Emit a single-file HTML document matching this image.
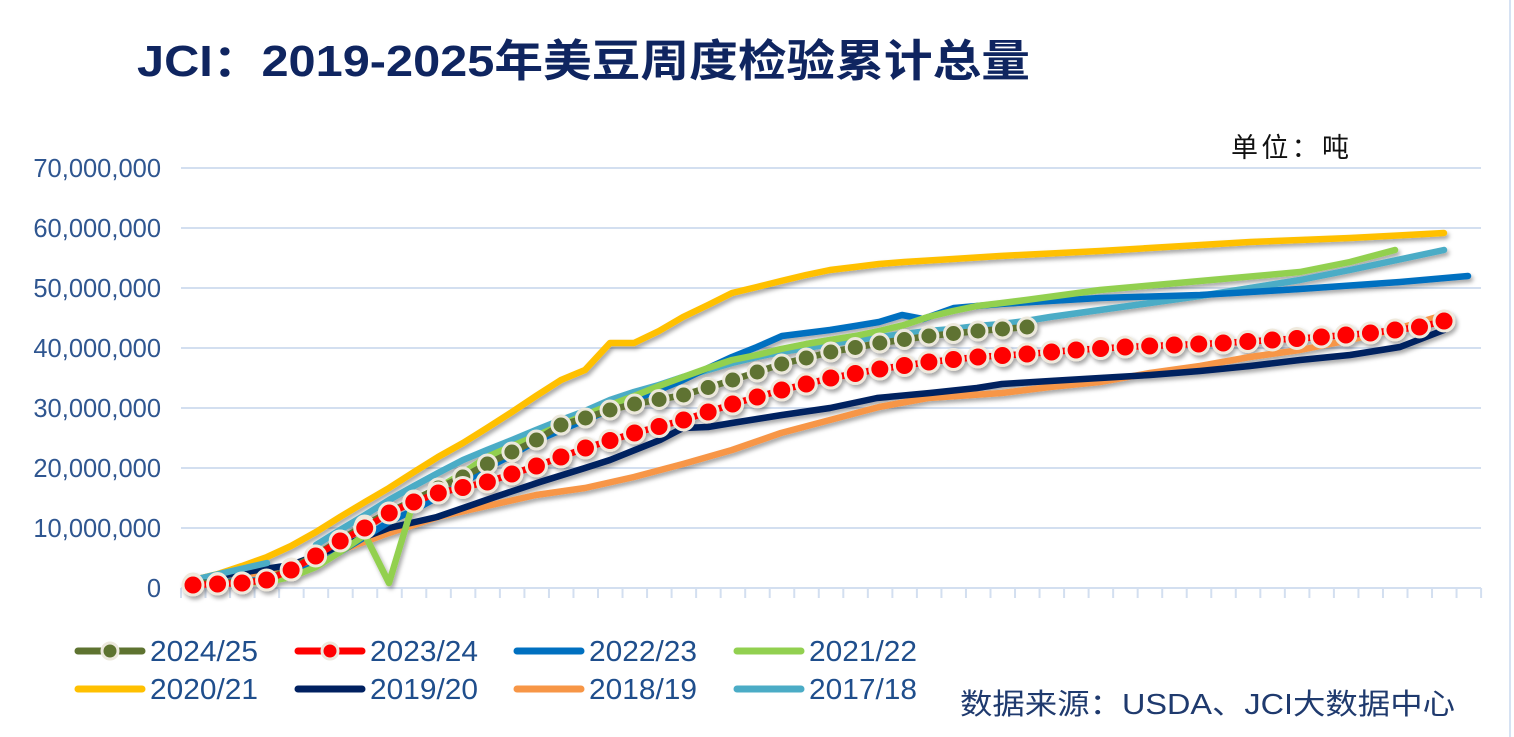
<!DOCTYPE html>
<html><head><meta charset="utf-8"><style>
body{margin:0;width:1514px;height:737px;background:#fff;overflow:hidden;font-family:"Liberation Sans","Noto Sans CJK SC",sans-serif}
</style></head><body>
<svg id="s" width="1514" height="737" xmlns="http://www.w3.org/2000/svg" style="position:absolute;left:0;top:0">
<defs><filter id="sh" x="-5%" y="-5%" width="110%" height="120%"><feDropShadow dx="2" dy="3" stdDeviation="2" flood-color="#000" flood-opacity="0.35"/></filter></defs>
<line x1="1510" y1="0" x2="1510" y2="737" stroke="#d6e2f3" stroke-width="2"/>
<text x="137" y="76" font-size="44" font-weight="bold" fill="#0f2560" textLength="893" lengthAdjust="spacingAndGlyphs" font-family="Liberation Sans,Noto Sans CJK SC,sans-serif">JCI：2019-2025年美豆周度检验累计总量</text>
<text x="1231" y="157" font-size="27" fill="#111" textLength="118" font-family="Liberation Sans,Noto Sans CJK SC,sans-serif">单位：吨</text>
<g id="grid"></g>
<g id="lines" fill="none" stroke-linecap="round" stroke-linejoin="round" stroke-width="6.5" filter="url(#sh)"></g>
<g id="leg"></g>
<text x="960" y="714" font-size="29" fill="#1f3a6e" textLength="495" lengthAdjust="spacingAndGlyphs" font-family="Liberation Sans,Noto Sans CJK SC,sans-serif">数据来源：USDA、JCI大数据中心</text>
</svg>
<script>
const NS="http://www.w3.org/2000/svg";
function el(p,t,a,txt){const e=document.createElementNS(NS,t);for(const k in a)e.setAttribute(k,a[k]);if(txt!==undefined)e.textContent=txt;p.appendChild(e);return e;}
const g=document.getElementById('grid'),L=document.getElementById('lines'),lg=document.getElementById('leg');
const labs=["0","10,000,000","20,000,000","30,000,000","40,000,000","50,000,000","60,000,000","70,000,000"];
for(let i=0;i<8;i++){const y=588-60*i;el(g,'line',{x1:181,x2:1481,y1:y,y2:y,stroke:'#d3dff0','stroke-width':2});
el(g,'text',{x:161,y:y+9,'text-anchor':'end','font-size':25.5,fill:'#2f5690'},labs[i]);}
for(let k=0;k<=53;k++){const x=181+24.53*k;el(g,'line',{x1:x,x2:x,y1:588,y2:598,stroke:'#d3dff0','stroke-width':2});}
function P(pts){return pts.map(p=>p.join(',')).join(' ');}
const X=i=>193+24.53*i;
function line(pts,c){el(L,'polyline',{points:P(pts),stroke:c});}
function interp(keys,n){const r=[];for(let i=0;i<=n;i++){let j=0;while(j<keys.length-2&&keys[j+1][0]<i)j++;const a=keys[j],b=keys[j+1];const t=(i-a[0])/(b[0]-a[0]);r.push([X(i),a[1]+t*(b[1]-a[1])]);}return r;}
// orange
line([[193,582],[291,568],[389,533],[438,517],[487,506],[536,495],[585,488],[634,477],[683,464],[732,450],[781,433],[830,420],[879,407],[928,398],[1002,393],[1050,387],[1100,382],[1150,373],[1200,366],[1250,357],[1300,350],[1350,340],[1400,328],[1444,315]],'#f79646');
// navy
line([[193,580],[291,565],[389,528],[437,517],[495,497],[540,482],[585,468],[610,460],[660,440],[683,428],[708,427],[732,423],[782,415],[830,408],[877,398],[930,393],[977,388],[1002,384],[1050,381],[1100,378],[1150,375],[1200,371],[1250,366],[1300,360],[1350,355],[1400,347],[1444,330]],'#002060');
// yellow
line([[193,580],[218,574],[242,566],[267,557],[291,546],[316,532],[340,517],[365,502],[389,488],[414,472],[438,457],[463,443],[487,428],[512,412],[536,396],[561,380],[585,370],[610,343],[634,343],[659,331],[683,317],[708,305],[732,293],[757,287],[781,281],[806,275],[830,270],[855,267],[879,264],[904,262],[953,259],[1000,256],[1100,251],[1200,245],[1250,242],[1300,240],[1350,238],[1444,233]],'#ffc000');
// teal
line([[193,580],[267,563]],'#4bacc6');
line([[316,545],[340,530],[365,515],[389,500],[414,486],[438,473],[463,460],[487,450],[512,440],[536,430],[561,420],[585,411],[610,400],[634,392],[659,385],[683,377],[708,370],[732,363],[757,357],[781,352],[806,348],[830,344],[855,340],[879,337],[904,334],[928,331],[953,329],[977,326],[1002,324],[1026,321],[1050,317],[1100,310],[1200,296],[1300,280],[1350,270],[1444,250]],'#4bacc6');
// blue
line([[193,583],[267,580],[291,575],[316,565],[340,552],[365,537],[389,522],[414,510],[438,497],[463,483],[487,468],[512,455],[536,441],[561,430],[585,420],[610,410],[634,400],[659,390],[683,380],[708,368],[732,357],[757,347],[782,336],[806,333],[830,330],[855,326],[879,322],[902,315],[923,319],[954,308],[1000,304],[1100,298],[1200,295],[1300,289],[1400,282],[1468,276]],'#0070c0');
// green
line([[193,583],[267,582],[291,577],[316,567],[340,552],[365,535],[389,583],[414,500],[438,488],[463,473],[487,457],[512,446],[536,436],[561,425],[585,415],[610,405],[634,396],[659,386],[683,377],[708,368],[732,360],[757,355],[781,349],[806,344],[830,340],[855,336],[879,331],[904,325],[928,317],[953,311],[977,306],[1002,303],[1026,300],[1100,290],[1200,281],[1300,272],[1350,262],[1395,250]],'#92d050');
// olive dots
const op=interp([[0,583],[2,582],[3,580],[4,568],[5,555],[6,540],[7,525],[8,512],[9,500],[10,488],[11,477],[12,464],[13,452],[14,440],[15,425],[16,418],[17,410],[18,404],[20,395],[22,380],[24,364],[26,352],[28,343],[30,336],[32,331],[34,327]],34);
line(op,'#5e7330');
op.forEach(p=>el(L,'circle',{cx:p[0],cy:p[1],r:9,fill:'#5e7330',stroke:'#ece8dc','stroke-width':3}));
// red dots
const rp=interp([[0,585],[1,584],[2,583],[3,580],[4,570],[5,556],[6,541],[7,528],[8,513],[9,502],[10,493],[12,482],[14,466],[16,448],[18,433],[20,420],[22,404],[24,390],[26,378],[28,369],[30,362],[32,357],[34,354],[36,350],[38,347],[40,345],[42,343],[44,340],[46,337],[48,333],[50,327],[51,321]],51);
line(rp,'#ff0000');
rp.forEach(p=>el(L,'circle',{cx:p[0],cy:p[1],r:10,fill:'#ff0000',stroke:'#efe9dc','stroke-width':3}));
// legend
const items=[[78,651,'#5e7330','2024/25',1],[298,651,'#ff0000','2023/24',1],[517,651,'#0070c0','2022/23',0],[737,651,'#92d050','2021/22',0],
[78,689,'#ffc000','2020/21',0],[298,689,'#002060','2019/20',0],[517,689,'#f79646','2018/19',0],[737,689,'#4bacc6','2017/18',0]];
items.forEach(([x,y,c,t,d])=>{el(lg,'line',{x1:x,x2:x+64,y1:y,y2:y,stroke:c,'stroke-width':7,'stroke-linecap':'round'});
if(d)el(lg,'circle',{cx:x+32,cy:y,r:8,fill:c,stroke:'#ece8dc','stroke-width':3});
el(lg,'text',{x:x+72,y:y+10,'font-size':29,fill:'#1f4e8c',textLength:108,lengthAdjust:'spacingAndGlyphs'},t);});
</script>
</body></html>
